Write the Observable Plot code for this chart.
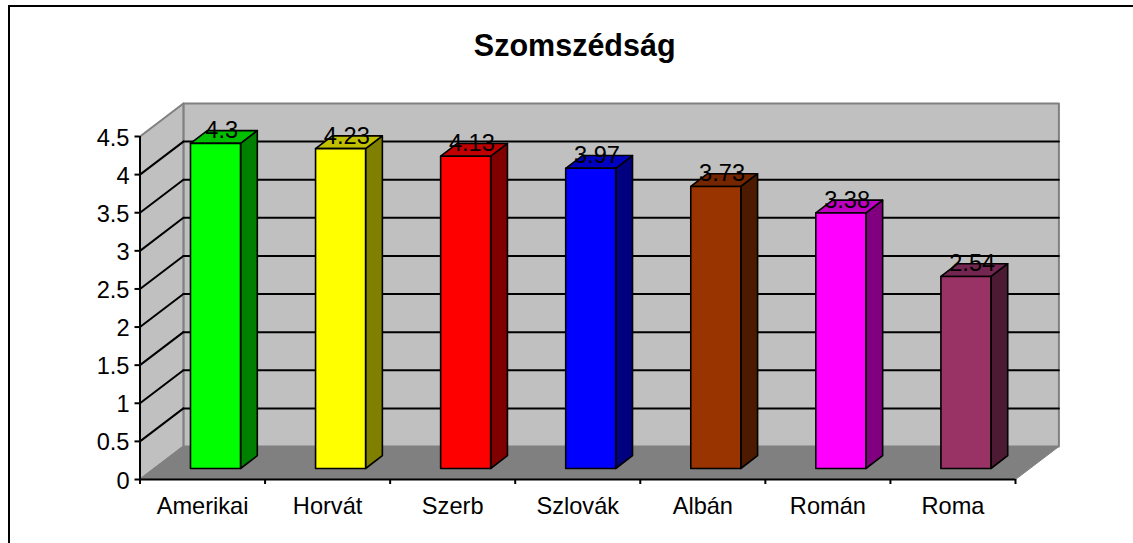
<!DOCTYPE html>
<html>
<head>
<meta charset="utf-8">
<script src="https://cdn.jsdelivr.net/npm/d3@7"></script>
<script src="https://cdn.jsdelivr.net/npm/@observablehq/plot@0.6"></script>
<style>
html,body{margin:0;padding:0;background:#fff;overflow:hidden}
#wrap{position:relative;width:1133px;height:543px;overflow:hidden}
#border{position:absolute;left:8px;top:5px;width:1200px;height:600px;border:2px solid #000;box-sizing:content-box}
#chart{position:absolute;left:0;top:0}
svg{background:transparent !important}
</style>
</head>
<body>
<div id="wrap"><div id="border"></div><div id="chart"></div></div>
<script>
const titleText = "Szomszédság";
const categories = ["Amerikai","Horvát","Szerb","Szlovák","Albán","Román","Roma"];
const values = [4.3,4.23,4.13,3.97,3.73,3.38,2.54];
const frontColors = ["#00ff00","#ffff00","#ff0000","#0000ff","#993300","#ff00ff","#993366"];
const sideColors = ["#008000","#808000","#800000","#000080","#4d1a00","#800080","#4d1a33"];
const topColors = ["#00c000","#c0c000","#c00000","#0000c0","#732600","#c000c0","#732650"];
const yTicks = [0,0.5,1,1.5,2,2.5,3,3.5,4,4.5];
const xTicks = [0,1,2,3,4,5,6,7];

const fontFamily = "'Liberation Sans', Arial, sans-serif";
const depthX = 0.347, depthY = 0.433;    // oblique offset of the full floor depth, in data units
const barLeft = 0.288, barWidth = 0.4;   // within each category slot
const barFront = 1/3, barBack = 0.72;    // fraction of floor depth
const barScale = 0.992;                  // value units drawn on the receding bar plane

const P = (c, v, d) => ({x: c + d * depthX, y: v + d * depthY});
const poly = (id, fill, pts) => pts.map(p => ({id, fill, ...p}));
const n = categories.length, vMax = 4.5;

const wall = [
  ...poly("back", "#c0c0c0", [P(0,0,1),P(n,0,1),P(n,vMax,1),P(0,vMax,1)]),
  ...poly("left", "#c0c0c0", [P(0,0,0),P(0,0,1),P(0,vMax,1),P(0,vMax,0)])
];
const floor = poly("floor", "#808080", [P(0,0,0),P(n,0,0),P(n,0,1),P(0,0,1)]);
const grid = yTicks.filter(t => t > 0 && t < vMax).flatMap(t => [
  {id:"b"+t, ...P(0,t,1)}, {id:"b"+t, ...P(n,t,1)},
  {id:"l"+t, ...P(0,t,0)}, {id:"l"+t, ...P(0,t,1)}
]);
const faces = values.flatMap((v,i) => {
  const h = v * barScale, l = i + barLeft, r = l + barWidth;
  return [
    ...poly("s"+i, sideColors[i], [P(r,0,barFront),P(r,0,barBack),P(r,h,barBack),P(r,h,barFront)]),
    ...poly("t"+i, topColors[i], [P(l,h,barFront),P(r,h,barFront),P(r,h,barBack),P(l,h,barBack)]),
    ...poly("f"+i, frontColors[i], [P(l,0,barFront),P(r,0,barFront),P(r,h,barFront),P(l,h,barFront)])
  ];
});
const labels = values.map((v,i) => ({v, ...P(i + barLeft + barWidth/2 + 0.05, v*barScale, barFront)}));

const polyOpts = {x:"x", y:"y", z:"id", fill:"fill", curve:"linear-closed"};
const chart = Plot.plot({
  width:1133, height:543,
  marginLeft:139.5, marginRight:118, marginTop:136, marginBottom:64,
  style:{background:"transparent", fontFamily, color:"#000", overflow:"visible"},
  x:{type:"linear", domain:[0,n], axis:null},
  y:{type:"linear", domain:[0,vMax], axis:null},
  color:{type:"identity"},
  marks:[
    Plot.line(wall, {...polyOpts, stroke:"#808080", strokeWidth:2}),
    Plot.line(floor, {...polyOpts, stroke:"#808080", strokeWidth:1}),
    Plot.line(grid, {x:"x", y:"y", z:"id", stroke:"#000", strokeWidth:2}),
    Plot.line(faces, {...polyOpts, stroke:"#000", strokeWidth:1.6}),
    Plot.ruleX([0], {y1:0, y2:vMax, stroke:"#000", strokeWidth:2}),
    Plot.ruleY([0], {x1:0, x2:n, stroke:"#000", strokeWidth:2}),
    Plot.axisY({ticks:yTicks, tickSize:5, tickFormat:()=>"", anchor:"left", label:null, stroke:"#000", strokeWidth:2, strokeOpacity:1}),
    Plot.axisY({ticks:yTicks, tickSize:0, tickPadding:10.5, tickFormat:d=>String(d), fontSize:23.6, anchor:"left", label:null, fill:"#000", dy:1.5}),
    Plot.axisX({ticks:xTicks, tickSize:5, tickFormat:()=>"", anchor:"bottom", label:null, stroke:"#000", strokeWidth:2, strokeOpacity:1}),
    Plot.text(categories, {x:(d,i)=>i+0.5, y:0, text:d=>d, dy:27, fontSize:23.6, fill:"#000", lineAnchor:"middle"}),
    Plot.text(labels, {x:"x", y:"y", text:d=>String(d.v), dy:-5, fontSize:23.6, fill:"#000", lineAnchor:"bottom"}),
    Plot.text([titleText], {x:n*0.4965, y:vMax, text:d=>d, dy:-90, fontSize:30.5, fontWeight:"bold", fill:"#000", lineAnchor:"middle"})
  ]
});
document.getElementById("chart").appendChild(chart);
</script>
</body>
</html>
